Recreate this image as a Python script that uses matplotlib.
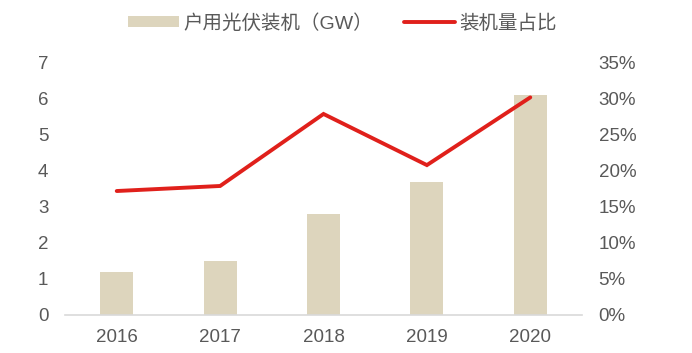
import matplotlib
matplotlib.use("Agg")
import matplotlib.pyplot as plt
from matplotlib.ticker import FuncFormatter

years = ["2016", "2017", "2018", "2019", "2020"]
capacity_gw = [1.2, 1.5, 2.8, 3.7, 6.1]
share_pct = [17.2, 17.9, 27.9, 20.8, 30.2]
left_ticks = [0, 1, 2, 3, 4, 5, 6, 7]
right_ticks = [0, 5, 10, 15, 20, 25, 30, 35]
bar_label = "户用光伏装机（GW）"
line_label = "装机量占比"

plt.rcParams['font.family'] = ['Liberation Sans', 'Noto Sans CJK SC', 'DejaVu Sans']
text_color = "#595959"
fs = 13.5

fig = plt.figure(figsize=(6.92, 3.53), dpi=100)
ax = fig.add_axes([0.094, 0.108, 0.747, 0.714])
x = range(len(years))
bars = ax.bar(x, capacity_gw, width=0.32, color="#ddd5bd", label=bar_label, zorder=2)
ax.set_ylim(0, 7)
ax.set_xlim(-0.5, 4.5)
ax.set_yticks(left_ticks)
ax.set_xticks(list(x))
ax.set_xticklabels(years)

ax2 = ax.twinx()
line, = ax2.plot(list(x), share_pct, color="#e0201b", lw=2.8, solid_capstyle="round",
                 solid_joinstyle="miter", label=line_label, zorder=3)
ax2.set_ylim(0, 35)
ax2.set_yticks(right_ticks)
ax2.yaxis.set_major_formatter(FuncFormatter(lambda v, p: f"{int(v)}%"))

for a in (ax, ax2):
    for s in a.spines.values():
        s.set_visible(False)
    a.tick_params(length=0, labelsize=fs, colors=text_color)
ax.spines['bottom'].set_visible(True)
ax.spines['bottom'].set_color("#d9d9d9")
ax.spines['bottom'].set_linewidth(1.2)
ax.tick_params(axis='y', pad=12)
ax.tick_params(axis='x', pad=10)
ax2.tick_params(axis='y', pad=12)

fig.legend(handles=[bars, line], labels=[bar_label, line_label], loc="upper center",
           bbox_to_anchor=(0.495, 1.01), ncol=2, frameon=False, fontsize=14,
           labelcolor=text_color, handlelength=2.6, handleheight=0.5,
           handletextpad=0.25, columnspacing=1.6)

fig.savefig("out.png", dpi=100)
